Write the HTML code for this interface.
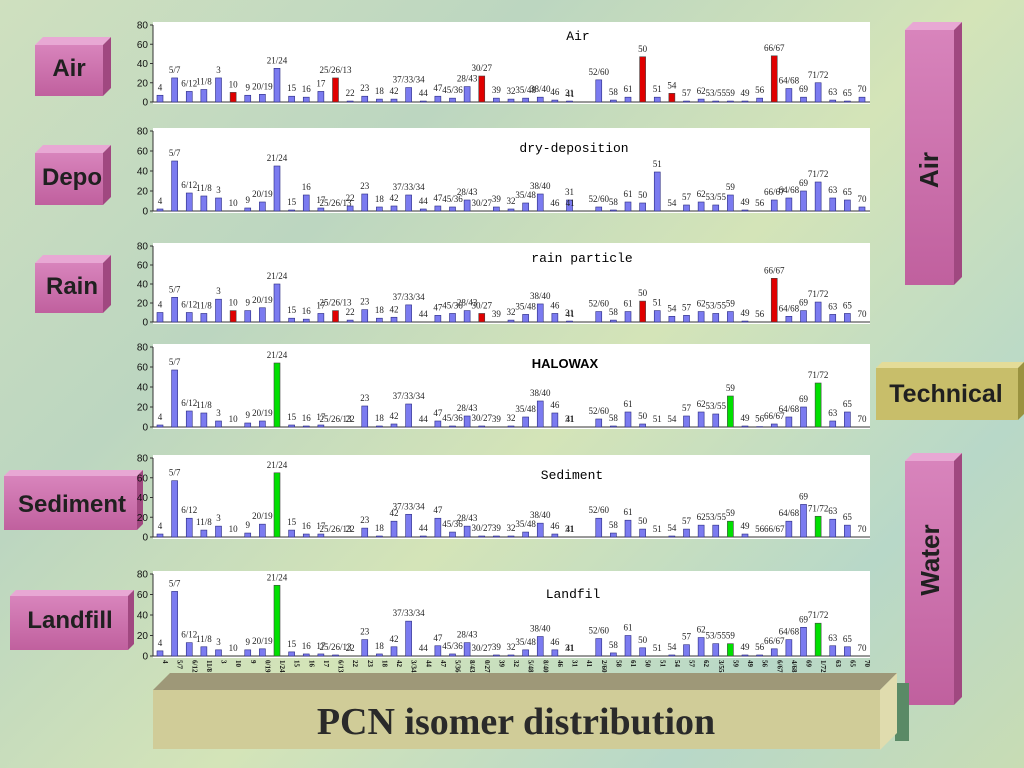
<!DOCTYPE html>
<html><head><meta charset="utf-8"><style>
html,body{margin:0;padding:0}
body{width:1024px;height:768px;overflow:hidden;background:linear-gradient(135deg,#cfe0bf 0%,#bcd6c0 30%,#d4e4b8 55%,#b8d8c8 80%,#c8dcb4 100%);font-family:"Liberation Sans",sans-serif}
svg{position:absolute;left:0;top:0}
#side text{font-weight:bold}
</style></head><body>
<svg id="chart" width="1024" height="768">
<defs>
<linearGradient id="pink" x1="0" y1="0" x2="0" y2="1"><stop offset="0" stop-color="#d884bc"/><stop offset="1" stop-color="#c0609e"/></linearGradient>
</defs>
<g id="side">
<g><polygon points="35,45 43,37 111,37 103,45" fill="#e8a8d4"/><polygon points="103,45 111,37 111,88 103,96" fill="#a04880"/><rect x="35" y="45" width="68" height="51" fill="url(#pink)"/><text x="69" y="76" text-anchor="middle" font-size="24" fill="#202020">Air</text></g>
<g><polygon points="35,153 43,145 111,145 103,153" fill="#e8a8d4"/><polygon points="103,153 111,145 111,197 103,205" fill="#a04880"/><rect x="35" y="153" width="68" height="52" fill="url(#pink)"/><text x="72" y="185" text-anchor="middle" font-size="24" fill="#202020">Depo</text></g>
<g><polygon points="35,263 43,255 111,255 103,263" fill="#e8a8d4"/><polygon points="103,263 111,255 111,305 103,313" fill="#a04880"/><rect x="35" y="263" width="68" height="50" fill="url(#pink)"/><text x="72" y="294" text-anchor="middle" font-size="24" fill="#202020">Rain</text></g>
<g><polygon points="4,476 10,470 143,470 137,476" fill="#e8a8d4"/><polygon points="137,476 143,470 143,524 137,530" fill="#a04880"/><rect x="4" y="476" width="133" height="54" fill="url(#pink)"/><text x="72" y="512" text-anchor="middle" font-size="24" fill="#202020">Sediment</text></g>
<g><polygon points="10,596 16,590 134,590 128,596" fill="#e8a8d4"/><polygon points="128,596 134,590 134,644 128,650" fill="#a04880"/><rect x="10" y="596" width="118" height="54" fill="url(#pink)"/><text x="70" y="628" text-anchor="middle" font-size="24" fill="#202020">Landfill</text></g>
<g><polygon points="905,30 913,22 962,22 954,30" fill="#e8a8d4"/><polygon points="954,30 962,22 962,277 954,285" fill="#a04880"/><rect x="905" y="30" width="49" height="255" fill="url(#pink)"/><text transform="translate(938,170) rotate(-90)" text-anchor="middle" font-size="26" fill="#202020">Air</text></g>
<g><polygon points="905,461 913,453 962,453 954,461" fill="#e8a8d4"/><polygon points="954,461 962,453 962,697 954,705" fill="#a04880"/><rect x="905" y="461" width="49" height="244" fill="url(#pink)"/><text transform="translate(939,560) rotate(-90)" text-anchor="middle" font-size="26" fill="#202020">Water</text></g>
<g><polygon points="876,368 882,362 1024,362 1018,368" fill="#e4dc98"/><polygon points="1018,368 1024,362 1024,414 1018,420" fill="#9a9240"/><rect x="876" y="368" width="142" height="52" fill="#c8be6a"/><text x="946" y="402" text-anchor="middle" font-size="25" fill="#202020">Technical</text></g>
</g>
<g id="panels"></g>
<g id="xlabels"></g>
<g>
<rect x="895" y="683" width="14" height="58" fill="#5a8a66"/>
<polygon points="153,690 170,673 897,673 880,690" fill="#9e9878"/>
<polygon points="880,690 897,673 897,733 880,750" fill="#e0dcae"/>
<rect x="153" y="690" width="727" height="59" fill="#d0cc98"/>
<text x="516" y="734" text-anchor="middle" font-family="Liberation Serif,serif" font-weight="bold" font-size="38" fill="#2a2a2a">PCN isomer distribution</text>
</g>
</svg>
<script>
const categories=["4","5/7","6/12","11/8","3","10","9","20/19","21/24","15","16","17","25/26/13","22","23","18","42","37/33/34","44","47","45/36","28/43","30/27","39","32","35/48","38/40","46","31","41","52/60","58","61","50","51","54","57","62","53/55","59","49","56","66/67","64/68","69","71/72","63","65","70"];
const airValues=[7,25,11,13,25,10,7,8,35,6,5,11,25,1,6,3,3,15,1,6,4,16,27,4,3,4,5,2,1,0,23,2,5,47,5,9,1,3,1,1,1,4,48,14,5,20,2,1,5];
const dryValues=[2,50,18,15,13,0,3,9,45,1,16,3,0,5,17,4,5,16,2,5,4,11,0,4,2,8,17,0,11,0,4,1,9,8,39,0,6,9,6,16,1,0,11,13,20,29,13,11,4];
const rainValues=[10,26,10,9,24,12,12,15,40,4,3,9,12,2,13,4,5,18,0,7,9,12,9,0,2,8,19,9,1,0,11,2,11,22,12,6,7,11,9,11,1,0,46,6,12,21,8,9,0];
const halowaxValues=[2,57,16,14,6,0,4,6,64,2,1,2,0,0,21,1,3,23,0,6,1,11,1,0,1,10,26,14,0,0,8,1,15,3,0,0,11,15,13,31,1,0.4,3,10,20,44,6,15,0];
const sedimentValues=[3,57,19,7,11,0,4,13,65,7,3,3,0,0,9,1,16,23,1,19,5,11,1,1,1,5,14,3,0,0,19,4,17,8,0,1,8,12,12,16,3,0,0,16,33,21,18,12,0];
const landfillValues=[5,63,13,9,6,0,6,7,69,4,2,2,1,0,16,2,9,34,0,10,2,13,0,1,1,6,19,6,0,0,17,3,20,8,0,1,11,18,12,12,1,1,7,16,28,32,10,9,0];
const yTicks=[0,20,40,60,80];
const airRed=["10","25/26/13","30/27","50","54","66/67"];
const rainRed=["10","25/26/13","30/27","50","66/67"];
const greenCats=["21/24","59","71/72"];
const panels=[
 {name:"air",title:"Air",vals:airValues,top:25,bot:102,tx:578,ty:40,hi:airRed,hc:"#e00000",mono:true},
 {name:"dry-deposition",title:"dry-deposition",vals:dryValues,top:131,bot:211,tx:574,ty:152,hi:[],hc:"",mono:true},
 {name:"rain-particle",title:"rain particle",vals:rainValues,top:246,bot:322,tx:582,ty:262,hi:rainRed,hc:"#e00000",mono:true},
 {name:"halowax",title:"HALOWAX",vals:halowaxValues,top:347,bot:427,tx:565,ty:368,hi:greenCats,hc:"#00e000",mono:false},
 {name:"sediment",title:"Sediment",vals:sedimentValues,top:458,bot:537,tx:572,ty:479,hi:greenCats,hc:"#00e000",mono:true},
 {name:"landfil",title:"Landfil",vals:landfillValues,top:574,bot:656,tx:573,ty:598,hi:greenCats,hc:"#00e000",mono:true}
];
const NS="http://www.w3.org/2000/svg";
const L=153,R=870;
function xScale(i){return 160+i*(862-160)/(categories.length-1);}
function mk(t,a,p){const e=document.createElementNS(NS,t);for(const k in a)e.setAttribute(k,a[k]);p.appendChild(e);return e;}
const root=document.getElementById('panels');
panels.forEach(p=>{
 const yScale=v=>p.bot-(v/80)*(p.bot-p.top);
 const g=mk('g',{},root);
 
 
 const bg=mk('rect',{x:L,y:p.top-3,width:R-L,height:p.bot-p.top+5,fill:'#ffffff'},g);
 
 
 mk('line',{x1:L,y1:p.top,x2:L,y2:p.bot,stroke:'#333','stroke-width':1},g);
 mk('line',{x1:L,y1:p.bot,x2:R,y2:p.bot,stroke:'#333','stroke-width':1},g);
 yTicks.forEach(t=>{
  const y=yScale(t);
  mk('line',{x1:L-3,y1:y,x2:L,y2:y,stroke:'#333'},g);
  const tl=mk('text',{x:L-5,y:y+3.5,'text-anchor':'end','font-size':10,fill:'#111','font-family':'Liberation Sans,sans-serif'},g);
  tl.textContent=t;
  
  
 });
 const tt=mk('text',{x:p.tx,y:p.ty,'text-anchor':'middle','font-size':13,'font-family':p.mono?'Liberation Mono,monospace':'Liberation Sans,sans-serif','font-weight':p.mono?'normal':'bold',fill:'#000'},g);
 tt.textContent=p.title;
 
 
 categories.forEach((c,i)=>{
  const v=p.vals[i];const x=xScale(i);const y=yScale(v);
  const fill=p.hi.includes(c)?p.hc:'#7b7bf0';
  const stroke=p.hi.includes(c)?'#444':'#2a2a80';
  const b=mk('rect',{x:x-3,y:y,width:6,height:Math.max(0,p.bot-y),fill:fill,stroke:stroke,'stroke-width':0.6},g);
  
  
  const lx=c==="41"?x-14:x;
  const lb=mk('text',{x:lx,y:y-5,'text-anchor':'middle','font-size':9,'font-family':'Liberation Serif,serif',fill:'#222'},g);
  lb.textContent=c;
  
  
 });
});
const xl=document.getElementById('xlabels');
categories.forEach((c,i)=>{
 const t=mk('text',{transform:'translate('+(xScale(i)+3)+',660) rotate(90)','font-size':7,'font-weight':'bold','font-family':'Liberation Serif,serif',fill:'#111'},xl);
 t.textContent=c.length>4?c.slice(-4):c;
 
 
});
</script>
</body></html>
